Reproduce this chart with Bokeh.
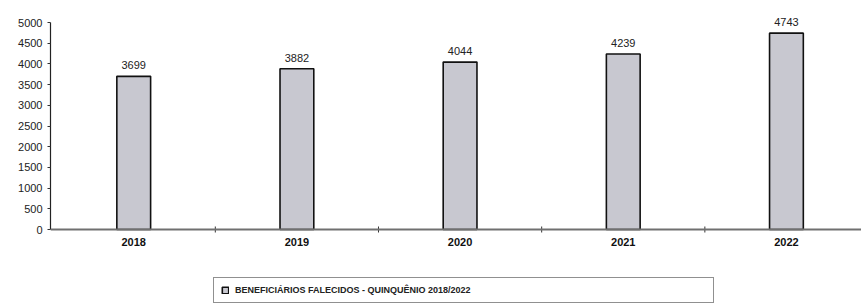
from bokeh.plotting import figure
from bokeh.models import (ColumnDataSource, Range1d, FixedTicker, Legend, LegendItem,
                          LabelSet, Span)
from bokeh.core.properties import value
from bokeh.embed import file_html
from bokeh.resources import INLINE

# ---- data ----
years = [2018, 2019, 2020, 2021, 2022]
year_labels = ["2018", "2019", "2020", "2021", "2022"]
values = [3699, 3882, 4044, 4239, 4743]
y_ticks = [0, 500, 1000, 1500, 2000, 2500, 3000, 3500, 4000, 4500, 5000]
series_name = "BENEFICIÁRIOS FALECIDOS - QUINQUÊNIO 2018/2022"

FONT = "Liberation Sans"
Y_AXIS_MAX = 5000
PX_PER_UNIT = 207 / Y_AXIS_MAX
Y_TOP = Y_AXIS_MAX + 14 / PX_PER_UNIT    # headroom for the value labels
Y_MIN = -76 / PX_PER_UNIT                # room under the axis for year labels and legend

src = ColumnDataSource(dict(x=years, top=values, label=[str(v) for v in values]))
ysrc = ColumnDataSource(dict(x=years, y=[0] * len(years), label=year_labels))
mids = [(a + b) / 2 for a, b in zip(years[:-1], years[1:])]
tsrc = ColumnDataSource(dict(x=mids, y=[0] * len(mids)))

p = figure(width=861, height=305, output_backend="svg", toolbar_location=None,
           x_range=Range1d(2017.49, 2022.46), y_range=Range1d(Y_MIN, Y_TOP),
           x_axis_location=None,
           min_border_top=8, min_border_left=50, min_border_right=0,
           min_border_bottom=0)
p.outline_line_color = None
p.grid.visible = False
p.background_fill_color = "white"

r = p.vbar(x="x", top="top", width=0.207, source=src,
           fill_color="#c8c8d0", line_color="#111111", line_width=1.6)

p.add_layout(LabelSet(x="x", y="top", text="label", source=src, y_offset=7,
                      text_align="center", text_baseline="bottom",
                      text_font=value(FONT), text_font_size=value("11px"),
                      text_color="#222222"))

# x axis (drawn at y = 0)
p.add_layout(Span(location=0, dimension="width", line_color="#707070", line_width=2))
p.rect(x="x", y="y", width=1, height=6, width_units="screen", height_units="screen",
       source=tsrc, fill_color="#333333", line_color=None)
p.add_layout(LabelSet(x="x", y="y", text="label", source=ysrc, y_offset=-8,
                      text_align="center", text_baseline="top",
                      text_font=value(FONT), text_font_style="bold",
                      text_font_size=value("11px"), text_color="#111111"))

# y axis
p.yaxis.ticker = FixedTicker(ticks=y_ticks)
p.yaxis.bounds = (0, Y_AXIS_MAX)
p.yaxis.axis_line_color = "#222222"
p.yaxis.axis_line_width = 1.2
p.yaxis.major_tick_out = 3
p.yaxis.major_tick_in = 0
p.yaxis.major_tick_line_color = "#333333"
p.yaxis.minor_tick_line_color = None
p.yaxis.major_label_standoff = 5
p.yaxis.major_label_text_font = FONT
p.yaxis.major_label_text_font_size = "11px"
p.yaxis.major_label_text_color = "#222222"

legend = Legend(items=[LegendItem(label=series_name, renderers=[r])],
                orientation="horizontal", location=(163, 2),
                label_width=471, glyph_width=8, glyph_height=8, spacing=0,
                padding=7, label_standoff=6, margin=0,
                border_line_color="#222222", border_line_width=1.5,
                label_text_font=FONT, label_text_font_style="bold",
                label_text_font_size="9px", label_text_color="#222222",
                background_fill_color="white", background_fill_alpha=1)
p.add_layout(legend)

open("out.html", "w").write(file_html(p, INLINE))
